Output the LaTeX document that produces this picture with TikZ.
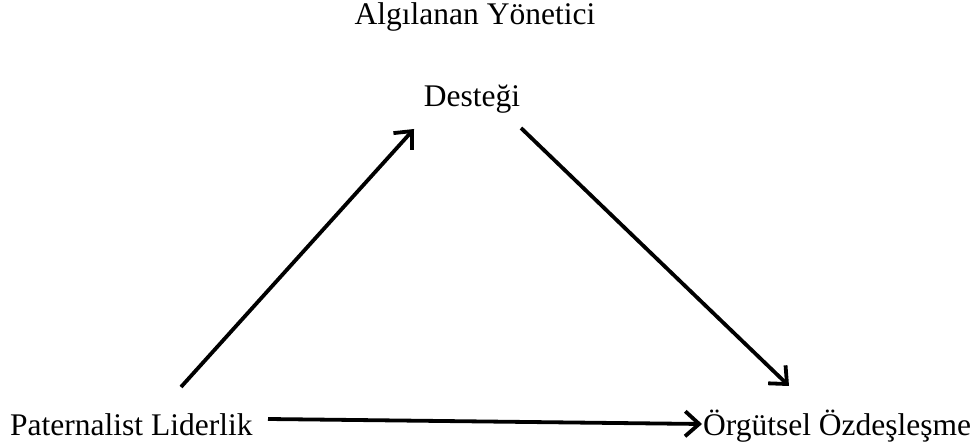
\documentclass[tikz,border=0pt]{standalone}
\usepackage{fontspec}
\setmainfont{Liberation Serif}
\usetikzlibrary{arrows.meta}
\begin{document}
\begin{tikzpicture}[x=1pt,y=1pt,
  lbl/.style={inner sep=0pt,font=\fontsize{31.5}{38}\selectfont},
  conn/.style={line width=3.8pt,-{Straight Barb[length=14pt,width=25pt,line width=3.8pt]}}]
\useasboundingbox (0,0) rectangle (979,447);
\node[lbl,anchor=base] (top1) at (475,422) {Algılanan Yönetici};
\node[lbl,anchor=base] (top2) at (472,340) {Desteği};
\node[lbl,anchor=base west] (pl) at (10,12) {Paternalist Liderlik};
\node[lbl,anchor=base west] (oo) at (703,12) {Örgütsel Özdeşleşme};
\coordinate (a1s) at (181,60);
\coordinate (a1e) at (414,318);
\coordinate (a2s) at (521,319);
\coordinate (a2e) at (789,61);
\coordinate (a3s) at (268,28);
\coordinate (a3e) at (702,23);
\draw[conn] (a1s) -- (a1e);
\draw[conn] (a2s) -- (a2e);
\draw[conn] (a3s) -- (a3e);
\end{tikzpicture}
\end{document}
